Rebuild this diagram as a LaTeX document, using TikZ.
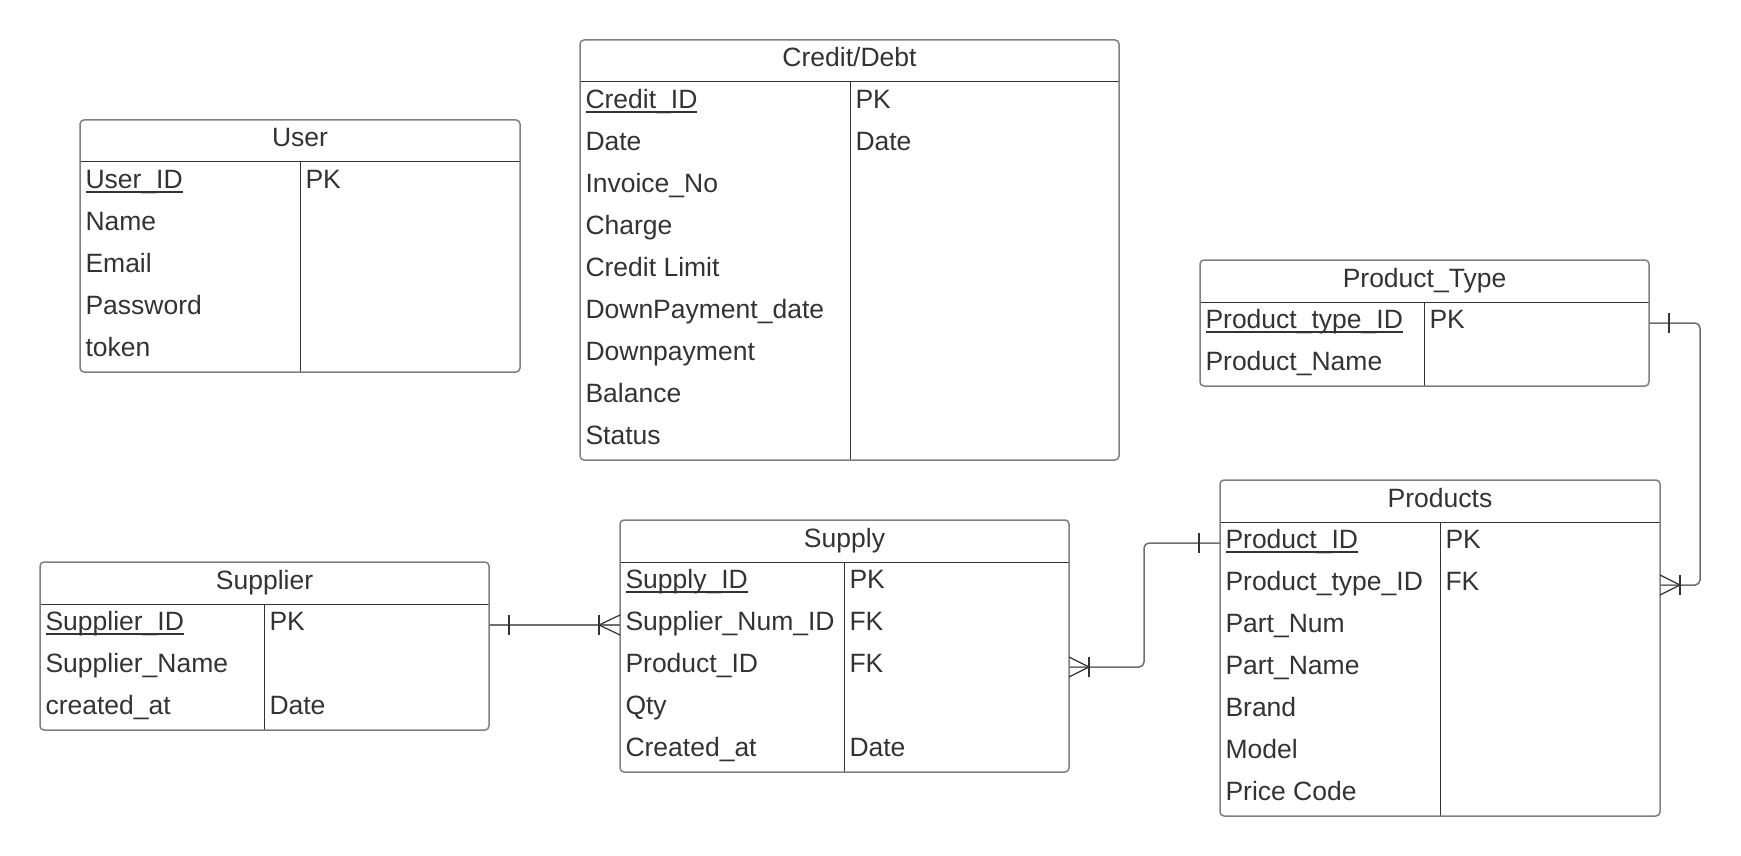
\documentclass[tikz,border=0pt]{standalone}
\usepackage{fontspec}
\setmainfont{Liberation Sans}
\usetikzlibrary{calc}
\definecolor{txt}{HTML}{333333}
\definecolor{bord}{HTML}{808080}
\definecolor{inner}{HTML}{333333}
\definecolor{conn}{HTML}{6E6E6E}
\tikzset{
  tbl/.style={draw=bord, line width=1.5pt, rounded corners=4pt, inner sep=0pt, outer sep=0pt},
  rowbox/.style={inner sep=0pt, outer sep=0pt, minimum height=42pt, anchor=north west},
  cell/.style={inner sep=0pt, outer sep=0pt, text=txt, font=\fontsize{26.5}{30}\selectfont, anchor=base west},
  ttl/.style={inner sep=0pt, outer sep=0pt, text=txt, font=\fontsize{26.5}{30}\selectfont, anchor=base},
  sepline/.style={draw=inner, line width=1pt},
  uline/.style={draw=txt, line width=1.4pt},
  rel/.style={draw=conn, line width=1.5pt, rounded corners=5pt},
  tickline/.style={draw=inner, line width=1.2pt},
}
% #1 name, #2 x, #3 y, #4 width, #5 divider offset, #6 rows, #7 title, #8 rows list
\newcommand{\ertable}[8]{%
  \node[ttl] (#1-t) at (#2+#4/2, #3+27) {#7};
  \foreach \a/\b [count=\i] in {#8} {
    \node[rowbox, minimum width=#4pt] (#1-\i) at (#2, #3+42*\i) {};
    \node[cell] (#1-\i-a) at ($(#1-\i.north west)+(5.5,26.5)$) {\a};
    \node[cell] (#1-\i-b) at ($(#1-\i.north west)+(#5+5.5,26.5)$) {\b};
    \ifnum\i=1
      \draw[uline] ($(#1-1-a.base west)+(0,3.5)$) -- ($(#1-1-a.base east)+(0,3.5)$);
    \fi
  }
  \draw[sepline] (#2, #3+42) -- (#2+#4, #3+42);
  \draw[sepline] (#2+#5, #3+42) -- (#2+#5, #3+42+42*#6);
  \node[tbl, minimum width=#4pt, minimum height={(#6+1)*42pt}, anchor=north west] (#1) at (#2,#3) {};
}
\begin{document}
\begin{tikzpicture}[x=1pt, y=-1pt]
\useasboundingbox (0,0) rectangle (1741,856);

\ertable{user}{80}{120}{440}{220}{5}{User}{User\_ID/PK, Name/{}, Email/{}, Password/{}, token/{}}
\ertable{credit}{580}{40}{539}{270}{9}{Credit/Debt}{Credit\_ID/PK, Date/Date, Invoice\_No/{}, Charge/{}, Credit Limit/{}, DownPayment\_date/{}, Downpayment/{}, Balance/{}, Status/{}}
\ertable{ptype}{1200}{260}{449}{224}{2}{Product\_Type}{Product\_type\_ID/PK, Product\_Name/{}}
\ertable{products}{1220}{480}{440}{220}{7}{Products}{Product\_ID/PK, Product\_type\_ID/FK, Part\_Num/{}, Part\_Name/{}, Brand/{}, Model/{}, Price Code/{}}
\ertable{supply}{620}{520}{449}{224}{5}{Supply}{Supply\_ID/PK, Supplier\_Num\_ID/FK, Product\_ID/FK, Qty/{}, Created\_at/Date}
\ertable{supplier}{40}{562}{449}{224}{3}{Supplier}{Supplier\_ID/PK, Supplier\_Name/{}, created\_at/Date}

% Supplier -> Supply
\draw[rel] (supplier-1.east) -- (supply-2.west);
\draw[tickline] ($(supplier-1.east)+(20,-10)$) -- ++(0,20);
\draw[tickline] ($(supply-2.west)+(-21,-10)$) -- ++(0,20);
\draw[tickline] ($(supply-2.west)+(0,-10)$) -- ($(supply-2.west)+(-21,0)$) -- ($(supply-2.west)+(0,10)$);

% Supply -> Products
\draw[rel] (supply-3.east) -- ++(75,0) |- (products-1.west);
\draw[tickline] ($(supply-3.east)+(20,-10)$) -- ++(0,20);
\draw[tickline] ($(supply-3.east)+(0,-10)$) -- ($(supply-3.east)+(20,0)$) -- ($(supply-3.east)+(0,10)$);
\draw[tickline] ($(products-1.west)+(-21,-10)$) -- ++(0,20);

% Product_Type -> Products
\draw[rel] (ptype-1.east) -- ++(51,0) |- (products-2.east);
\draw[tickline] ($(ptype-1.east)+(20,-10)$) -- ++(0,20);
\draw[tickline] ($(products-2.east)+(20,-10)$) -- ++(0,20);
\draw[tickline] ($(products-2.east)+(0,-10)$) -- ($(products-2.east)+(20,0)$) -- ($(products-2.east)+(0,10)$);
\end{tikzpicture}
\end{document}
